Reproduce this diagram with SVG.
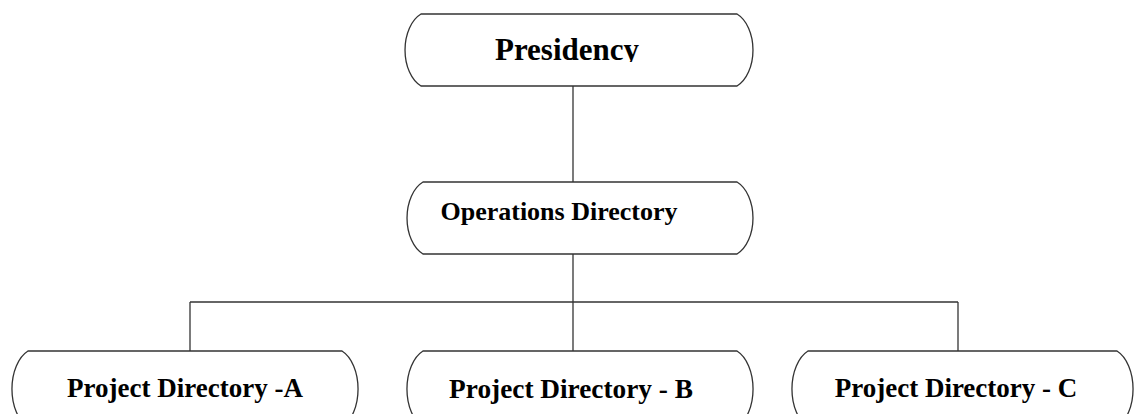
<svg xmlns="http://www.w3.org/2000/svg" width="1135" height="414" viewBox="0 0 1135 414">
<defs>
<style>
.box{fill:#fff;stroke:#333;stroke-width:1.3}
.lbl{font-family:"Liberation Serif","Times New Roman",serif;font-weight:bold;fill:#000;text-anchor:middle}
.conn{stroke:#333;stroke-width:1.3;fill:none}
</style>
<clipPath id="presClip"><rect x="405" y="14" width="350" height="48"/></clipPath>
</defs>
<rect width="1135" height="414" fill="#fff"/>
<g id="connectors">
<line class="conn" x1="573" y1="86" x2="573" y2="182"/>
<line class="conn" x1="573" y1="254" x2="573" y2="302"/>
<line class="conn" x1="190" y1="302" x2="958" y2="302"/>
<line class="conn" x1="190" y1="302" x2="190" y2="351"/>
<line class="conn" x1="573" y1="302" x2="573" y2="351"/>
<line class="conn" x1="958" y1="302" x2="958" y2="351"/>
</g>
<g id="presidency">
<path class="box" d="M421,14 H737 A25 38.6 0 0 1 737,86 H421 A25 38.6 0 0 1 421,14 Z"/>
<text class="lbl" x="567" y="60" font-size="31" clip-path="url(#presClip)">Presidency</text>
</g>
<g id="operations">
<path class="box" d="M423,182 H737 A25 38.6 0 0 1 737,254 H423 A25 38.6 0 0 1 423,182 Z"/>
<text class="lbl" x="559" y="220" font-size="26">Operations Directory</text>
</g>
<g id="projectA">
<path class="box" d="M28,351 H342 A25 40.7 0 0 1 342,427 H28 A25 40.7 0 0 1 28,351 Z"/>
<text class="lbl" x="185" y="397" font-size="27">Project Directory -A</text>
</g>
<g id="projectB">
<path class="box" d="M423,351 H737 A25 40.7 0 0 1 737,427 H423 A25 40.7 0 0 1 423,351 Z"/>
<text class="lbl" x="571" y="398" font-size="27.3">Project Directory - B</text>
</g>
<g id="projectC">
<path class="box" d="M808,351 H1117 A25 40.7 0 0 1 1117,427 H808 A25 40.7 0 0 1 808,351 Z"/>
<text class="lbl" x="956" y="397" font-size="27">Project Directory - C</text>
</g>
</svg>
